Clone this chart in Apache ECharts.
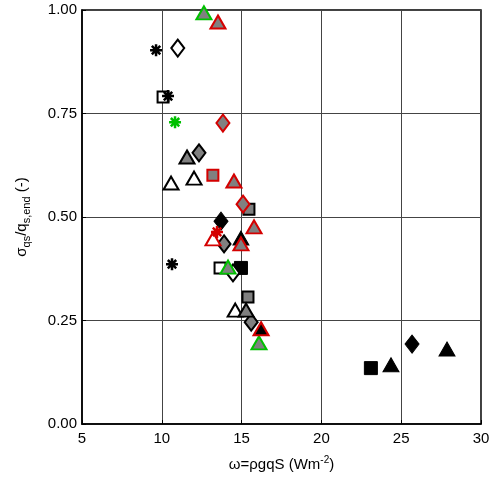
<!DOCTYPE html>
<html>
<head>
<meta charset="utf-8">
<script src="https://cdn.jsdelivr.net/npm/echarts@6/dist/echarts.min.js"></script>
<style>
  html, body { margin: 0; padding: 0; background: #fff; }
  #chart { width: 493px; height: 479px; }
</style>
</head>
<body>
<div id="chart"></div>
<script>
// Axis ticks
const xTicks = [5, 10, 15, 20, 25, 30];
const yTicks = [0, 0.25, 0.5, 0.75, 1.0];

// Data groups: [ω, σqs/qs,end]
const openTriangle      = [[12.02, 0.594], [10.58, 0.582], [14.60, 0.275]];
const openSquare        = [[10.08, 0.790], [13.65, 0.377]];
const blackSquare       = [[14.96, 0.377], [23.10, 0.135]];
const blackTriangle     = [[14.96, 0.449], [24.36, 0.143], [27.87, 0.181]];
const blackDiamond      = [[13.71, 0.490], [25.68, 0.193]];
const greyDiamond       = [[12.33, 0.655], [13.90, 0.435], [15.60, 0.246]];
const greySquare        = [[15.46, 0.519], [15.40, 0.307]];
const openDiamond       = [[11.00, 0.908], [14.46, 0.365]];
const greyTriangle      = [[11.58, 0.645], [15.28, 0.275]];
const blackAsterisk     = [[9.64, 0.903], [10.39, 0.792], [10.64, 0.386]];
const greenGreyTriangle = [[12.64, 0.993], [14.15, 0.379], [16.09, 0.196]];
const redGreyTriangle   = [[13.52, 0.971], [14.52, 0.587], [15.78, 0.476], [14.96, 0.435]];
const redGreyDiamond    = [[13.83, 0.727], [15.09, 0.531]];
const redOpenTriangle   = [[13.21, 0.447]];
const redBlackTriangle  = [[16.22, 0.230]];
const redGreySquare     = [[13.20, 0.601]];
const redAsterisk       = [[13.46, 0.464]];
const greenAsterisk     = [[10.83, 0.729]];

const GREY = '#808080';
const RED = '#d40000';
const GREEN = '#00c000';
const ASTERISK = 'path://M0 5L10 5M5 0L5 10M1.5 1.5L8.5 8.5M1.5 8.5L8.5 1.5';

const TRI = [15, 13];
const DIA = [13, 17];
const SQ = 11;
const AST = 12;

function group(name, data, symbol, size, fill, edge, lw) {
  return {
    name: name,
    type: 'scatter',
    data: data,
    symbol: symbol,
    symbolSize: size,
    itemStyle: { color: fill, borderColor: edge, borderWidth: lw, opacity: 1 },
    emphasis: { disabled: true }
  };
}

const series = [
  group('openTriangle', openTriangle, 'triangle', TRI, '#fff', '#000', 2),
  group('openSquare', openSquare, 'rect', SQ, '#fff', '#000', 2),
  group('blackSquare', blackSquare, 'rect', 13, '#000', '#000', 1),
  group('blackTriangle', blackTriangle, 'triangle', [16, 14], '#000', '#000', 1),
  group('blackDiamond', blackDiamond, 'diamond', [14, 18], '#000', '#000', 1),
  group('greyDiamond', greyDiamond, 'diamond', DIA, GREY, '#000', 2),
  group('greySquare', greySquare, 'rect', SQ, GREY, '#000', 2),
  group('openDiamond', openDiamond, 'diamond', DIA, '#fff', '#000', 2),
  group('greyTriangle', greyTriangle, 'triangle', TRI, GREY, '#000', 2),
  group('blackAsterisk', blackAsterisk, ASTERISK, AST, '#000', '#000', 2.5),
  group('greenGreyTriangle', greenGreyTriangle, 'triangle', TRI, GREY, GREEN, 2),
  group('redGreyTriangle', redGreyTriangle, 'triangle', TRI, GREY, RED, 2),
  group('redGreyDiamond', redGreyDiamond, 'diamond', DIA, GREY, RED, 2),
  group('redOpenTriangle', redOpenTriangle, 'triangle', TRI, '#fff', RED, 2),
  group('redBlackTriangle', redBlackTriangle, 'triangle', TRI, '#000', RED, 2),
  group('redGreySquare', redGreySquare, 'rect', SQ, GREY, RED, 2),
  group('redAsterisk', redAsterisk, ASTERISK, AST, RED, RED, 2.5),
  group('greenAsterisk', greenAsterisk, ASTERISK, AST, GREEN, GREEN, 2.5)
];

const FONT = 'Liberation Sans, Arial, sans-serif';

const chart = echarts.init(document.getElementById('chart'), null, { renderer: 'canvas' });
chart.setOption({
  animation: false,
  backgroundColor: '#fff',
  grid: {
    left: 82, top: 10, right: 12, bottom: 55,
    show: true, borderColor: '#000', borderWidth: 1.5, backgroundColor: 'transparent'
  },
  xAxis: {
    type: 'value',
    min: xTicks[0], max: xTicks[xTicks.length - 1], interval: 5,
    axisLine: { show: true, onZero: false, lineStyle: { color: '#000', width: 1.5 } },
    axisTick: { show: true, inside: true, length: 4, lineStyle: { color: '#000' } },
    axisLabel: { color: '#000', fontSize: 15, fontFamily: FONT, margin: 7 },
    splitLine: { show: true, lineStyle: { color: '#444', width: 1 } },
    name: '{t|ω=ρgqS (Wm}{sup|-2}{t|)}',
    nameLocation: 'middle',
    nameGap: 31,
    nameTextStyle: {
      color: '#000', fontFamily: FONT,
      rich: {
        t: { fontSize: 15, fontFamily: FONT, color: '#000', lineHeight: 20, verticalAlign: 'middle' },
        sup: { fontSize: 10, fontFamily: FONT, color: '#000', lineHeight: 10, verticalAlign: 'top' }
      }
    }
  },
  yAxis: {
    type: 'value',
    min: yTicks[0], max: yTicks[yTicks.length - 1], interval: 0.25,
    axisLine: { show: true, onZero: false, lineStyle: { color: '#000', width: 1.5 } },
    axisTick: { show: true, inside: true, length: 4, lineStyle: { color: '#000' } },
    axisLabel: {
      color: '#000', fontSize: 15, fontFamily: FONT, margin: 5,
      formatter: v => v.toFixed(2)
    },
    splitLine: { show: true, lineStyle: { color: '#444', width: 1 } },
    name: '{t|σ}{sub|qs}{t|/q}{sub|s,end}{t| (-)}',
    nameLocation: 'middle',
    nameGap: 50,
    nameRotate: 90,
    nameTextStyle: {
      color: '#000', fontFamily: FONT,
      rich: {
        t: { fontSize: 15, fontFamily: FONT, color: '#000', lineHeight: 20, verticalAlign: 'middle' },
        sub: { fontSize: 11, fontFamily: FONT, color: '#000', lineHeight: 11, verticalAlign: 'bottom' }
      }
    }
  },
  series: series
});
</script>
</body>
</html>
